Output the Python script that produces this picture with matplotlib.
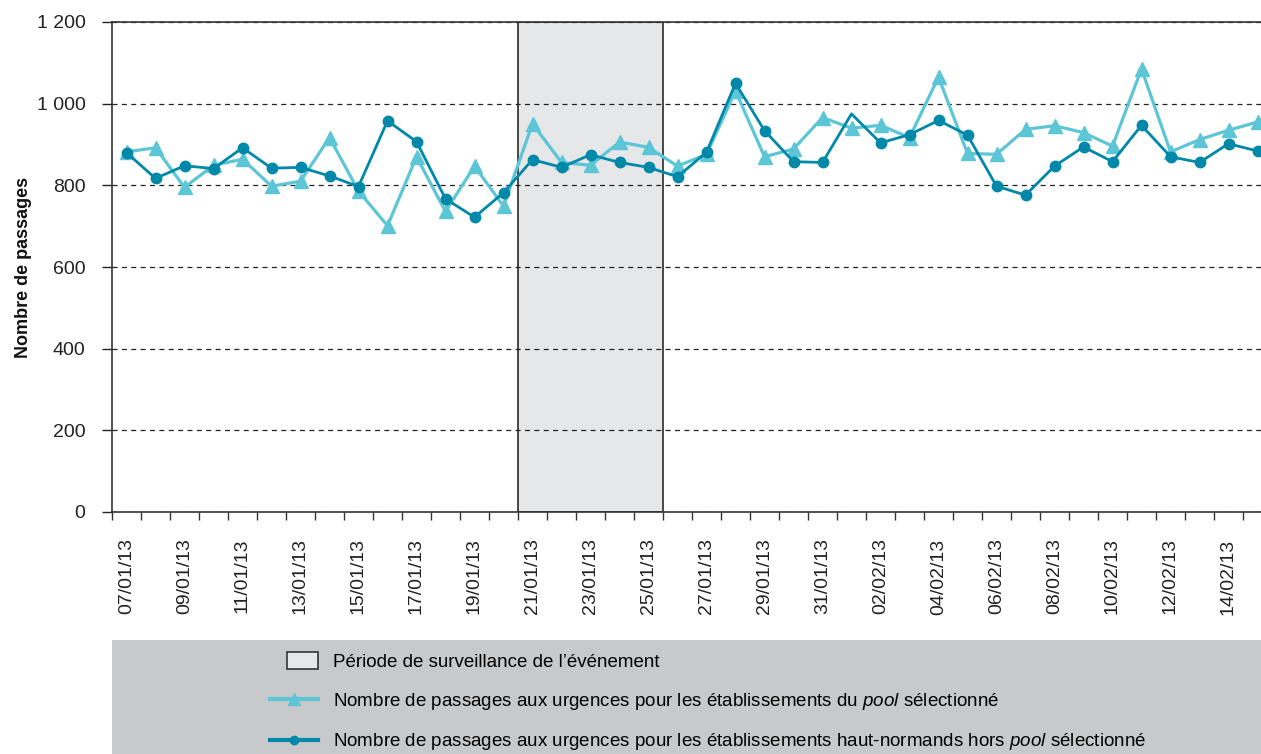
import numpy as np
import pandas as pd
import matplotlib
matplotlib.use('Agg')
import matplotlib.pyplot as plt
from matplotlib.patches import Patch, Rectangle
from matplotlib.lines import Line2D
from matplotlib.legend_handler import HandlerPatch

# categories: one point per day, 07/01/13 -> 15/02/13
dates = pd.date_range('2013-01-07', '2013-02-15').strftime('%d/%m/%y').tolist()

# pool selectionne (light, triangles)
pool = [882, 892, 795, 849, 864, 798, 810, 917, 786, 701,
        870, 736, 847, 749, 951, 856, 849, 906, 893, 847,
        876, 1031, 870, 889, 966, 940, 947, 917, 1065, 878,
        876, 937, 946, 929, 896, 1085, 882, 912, 935, 955]

# hors pool (dark, circles)
hors_pool = [880, 817, 848, 841, 892, 842, 844, 823, 797, 958,
             907, 767, 722, 782, 863, 844, 875, 856, 844, 821,
             881, 1050, 934, 858, 856, 975, 904, 924, 959, 923,
             798, 776, 847, 894, 858, 947, 870, 856, 902, 884]

periode = ('21/01/13', '25/01/13')
yticks = [0, 200, 400, 600, 800, 1000, 1200]
ytick_labels = ['0', '200', '400', '600', '800', '1 000', '1 200']

legend_labels = ['Période de surveillance de l\u2019événement',
                 'Nombre de passages aux urgences pour les établissements du $\\it{pool}$ sélectionné',
                 'Nombre de passages aux urgences pour les établissements haut-normands hors $\\it{pool}$ sélectionné']

light = '#5cc6d6'
dark = '#0088a9'
shade = '#e6e7e8'

plt.rcParams['font.family'] = ['Liberation Sans', 'DejaVu Sans']
plt.rcParams['mathtext.fontset'] = 'custom'
plt.rcParams['mathtext.it'] = 'Liberation Sans:italic'
plt.rcParams['mathtext.rm'] = 'Liberation Sans'

W, H = 1261, 754
fig = plt.figure(figsize=(W / 100, H / 100), dpi=100)
ax = fig.add_axes([112 / W, (H - 512) / H, 1160 / W, 490 / H])

x = np.arange(len(dates))
i0, i1 = dates.index(periode[0]), dates.index(periode[1])
ax.axvspan(i0 - 0.5, i1 + 0.5, facecolor=shade, edgecolor='#3a3a3a', lw=1.3, zorder=0.5)

ax.plot(x, pool, color=light, lw=2.3, marker='^', ms=10, zorder=3)
# no marker drawn on 01/02 in the original
marks = [i for i in range(len(x)) if dates[i] != '01/02/13']
ax.plot(x, hors_pool, color=dark, lw=2.0, marker='o', ms=7.5, markevery=marks, zorder=4)

ax.set_xlim(-0.5, len(dates) - 0.5)
ax.set_ylim(0, 1200)
ax.set_yticks(yticks, ytick_labels)
ax.yaxis.grid(True, linestyle=(0, (4, 3.5)), color='#222222', lw=0.9, zorder=1.5)

ax.set_xticks(x[::2], dates[::2], rotation=90)
ax.set_xticks(np.arange(len(dates) + 1) - 0.5, minor=True)
ax.tick_params(axis='x', which='major', length=0, pad=19, labelsize=14, colors='#222222')
ax.tick_params(axis='x', which='minor', length=6, width=1, direction='out', color='#333333')
ax.tick_params(axis='y', length=7, width=1, pad=12, labelsize=14, colors='#222222')
for s in ax.spines.values():
    s.set_color('#333333')
    s.set_linewidth(1.2)

ax.set_ylabel('Nombre de passages', fontweight='bold', fontsize=13, color='#111111')
ax.yaxis.set_label_coords(-(112 - 32) / 1160, 0.5)

# legend panel
lax = fig.add_axes([112 / W, 0, 1 - 112 / W, 114 / H])
lax.set_facecolor('#c8c9cb')
lax.set_xticks([])
lax.set_yticks([])
for s in lax.spines.values():
    s.set_visible(False)


def small_box(legend, orig_handle, xdescent, ydescent, width, height, fontsize):
    return Rectangle((-xdescent + width * 0.35, -ydescent - 0.15 * height), width * 0.65, height * 1.3)


handles = [Patch(facecolor=shade, edgecolor='#333333', lw=1.2),
           Line2D([], [], color=light, lw=3, marker='^', ms=8),
           Line2D([], [], color=dark, lw=3, marker='o', ms=6)]
lax.legend(handles, legend_labels, loc='upper left',
           bbox_to_anchor=((270 - 112) / 1149, 1 - 14 / 114),
           frameon=False, prop={'size': 13.5},
           handlelength=2.55, handletextpad=0.8, labelspacing=1.05,
           borderpad=0, borderaxespad=0,
           handler_map={Patch: HandlerPatch(patch_func=small_box)})

fig.savefig('out.png', dpi=100)
